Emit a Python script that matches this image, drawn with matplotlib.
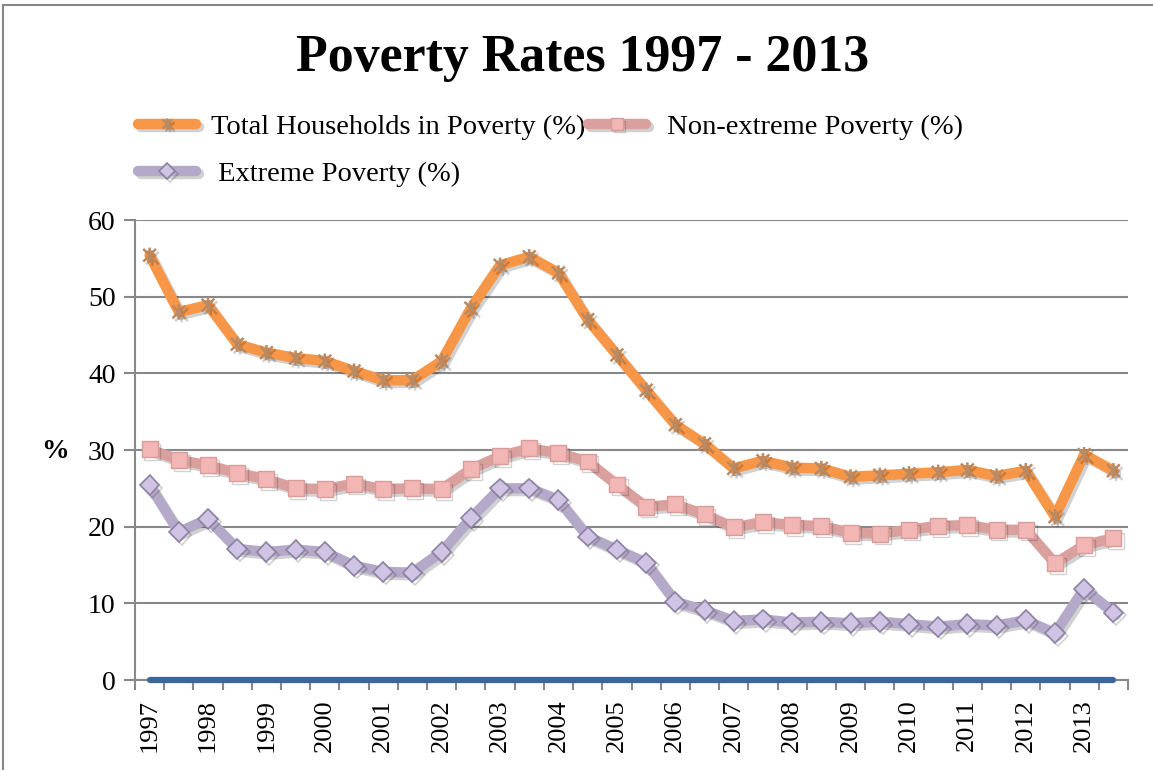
import matplotlib
matplotlib.use("Agg")
import matplotlib.pyplot as plt
import matplotlib.patheffects as pe
from matplotlib.path import Path
from matplotlib.lines import Line2D

plt.rcParams['font.family'] = ['Liberation Serif', 'DejaVu Serif']

# half-year observations, labels on every other point
years = [str(y) for y in range(1997, 2014)]
total = [55.4, 48.0, 48.9, 43.8, 42.7, 42.0, 41.6, 40.3, 39.1, 39.1, 41.6, 48.5,
         54.1, 55.2, 53.1, 47.0, 42.4, 37.8, 33.3, 30.8, 27.6, 28.6, 27.7, 27.6,
         26.5, 26.7, 26.9, 27.1, 27.4, 26.6, 27.3, 21.3, 29.4, 27.3]
non_extreme = [30.1, 28.7, 28.0, 27.0, 26.2, 25.0, 24.9, 25.6, 24.9, 25.0, 24.9, 27.5,
               29.2, 30.2, 29.6, 28.5, 25.5, 22.6, 22.9, 21.6, 19.9, 20.6, 20.2, 20.1,
               19.2, 19.1, 19.6, 20.1, 20.2, 19.6, 19.6, 15.2, 17.6, 18.5]
extreme = [25.4, 19.3, 21.0, 17.1, 16.7, 17.0, 16.7, 14.9, 14.1, 14.0, 16.7, 21.1,
           25.0, 25.0, 23.5, 18.7, 17.0, 15.3, 10.2, 9.1, 7.7, 7.9, 7.5, 7.6,
           7.4, 7.6, 7.3, 6.95, 7.3, 7.1, 7.8, 6.1, 11.9, 8.8]
baseline = [0] * len(total)

x = list(range(len(total)))

# excel style star marker: x plus vertical bar
star = Path([(-1, -1), (1, 1), (-1, 1), (1, -1), (0, -1.2), (0, 1.2)],
            [Path.MOVETO, Path.LINETO, Path.MOVETO, Path.LINETO, Path.MOVETO, Path.LINETO])

shadow = [pe.SimpleLineShadow(offset=(2, -2), alpha=0.18), pe.Normal()]

fig = plt.figure(figsize=(11.53, 7.70), dpi=100)
ax = fig.add_axes([135 / 1153, 1 - 680 / 770, 993 / 1153, 460 / 770])

ax.plot(x, baseline, color='#3d679c', lw=4.5, solid_capstyle='round', clip_on=False, zorder=3)
l1, = ax.plot(x, total, color='#f79646', lw=7.5, marker=star, ms=11, mec='#b98a63', mew=1.8,
              solid_capstyle='round', solid_joinstyle='round',
              label='Total Households in Poverty (%)', zorder=4, path_effects=shadow)
l2, = ax.plot(x, non_extreme, color='#d9a09e', lw=7.5, marker='s', ms=11.5, mfc='#f2b6b4', mec='#d89c9a',
              mew=1, solid_capstyle='round', solid_joinstyle='round',
              label=' Non-extreme Poverty (%)', zorder=4, path_effects=shadow)
l3, = ax.plot(x, extreme, color='#b4a9c8', lw=7.5, marker='D', ms=10, mfc='#cfc4e3', mec='#8e81a4',
              mew=1.2, solid_capstyle='round', solid_joinstyle='round',
              label=' Extreme Poverty (%)', zorder=4, path_effects=shadow)

ax.set_xlim(-0.5, len(total) - 0.5)
ax.set_ylim(0, 60)
ax.set_yticks(range(0, 61, 10))
ax.set_xticks(range(0, len(total), 2))
ax.set_xticklabels(years, rotation=90, fontsize=19)
ax.set_xticks([i - 0.5 for i in range(len(total) + 1)], minor=True)
ax.tick_params(axis='x', which='major', length=0, pad=14)
ax.tick_params(axis='x', which='minor', length=7, width=1.5, color='#888888')
ax.tick_params(axis='y', length=8, width=1.5, color='#888888', labelsize=20, pad=6)
ax.grid(axis='y', color='#888888', lw=1.5)
ax.set_axisbelow(True)
for s in ['top', 'right']:
    ax.spines[s].set_visible(False)
for s in ['left', 'bottom']:
    ax.spines[s].set_color('#888888')
    ax.spines[s].set_linewidth(1.5)

fig.text(55 / 1153, 1 - 452 / 770, '%', fontsize=20, fontweight='bold', ha='center', va='center')
fig.text(0.505, 1 - 58 / 770, 'Poverty Rates 1997 - 2013', fontsize=37.4, fontweight='bold',
         ha='center', va='center')

leg = fig.legend([l1, l3, l2], [l1.get_label(), l3.get_label(), l2.get_label()], ncol=2,
                 loc='upper left', bbox_to_anchor=(138 / 1153, 1 - 114 / 770), frameon=False,
                 fontsize=20.5, handlelength=2.05, handletextpad=0.5, columnspacing=0.1,
                 labelspacing=0.75, borderpad=0, borderaxespad=0)
for h in leg.legend_handles:
    h.set_solid_capstyle('round')
    h.set_markersize(8)

# outer chart border
fig.add_artist(Line2D([3 / 1153, 3 / 1153], [0, 1 - 5 / 770], color='#888888', lw=1.5))
fig.add_artist(Line2D([3 / 1153, 1], [1 - 5 / 770, 1 - 5 / 770], color='#888888', lw=1.5))

fig.savefig('out.png', dpi=100)
